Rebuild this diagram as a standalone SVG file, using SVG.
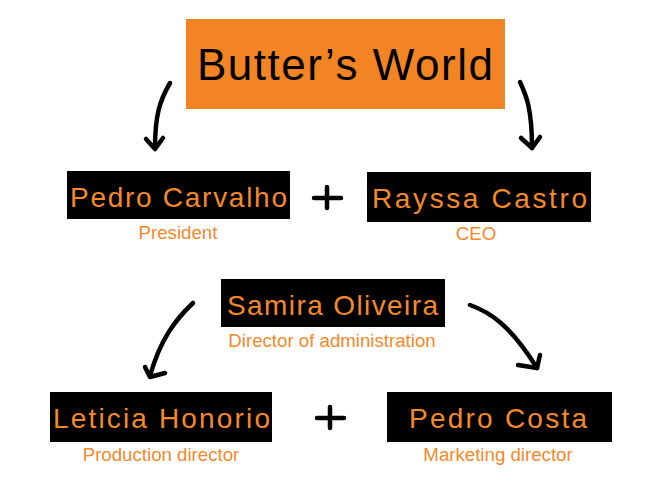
<svg xmlns="http://www.w3.org/2000/svg" width="650" height="496" viewBox="0 0 650 496">
<style>
.name{font-family:"Liberation Sans",Arial,sans-serif;font-size:28px;fill:#F5892A}
.title{font-family:"Liberation Sans",Arial,sans-serif;font-size:44px;fill:#000}
.role{font-family:"Liberation Sans",Arial,sans-serif;font-size:18.67px;fill:#F5892A;text-anchor:middle}
.box{fill:#000}
.conn path{fill:none;stroke:#000;stroke-width:4.5;stroke-linecap:round;stroke-linejoin:round}
</style>
<rect width="650" height="496" fill="#fff"/>
<g id="butters-world">
<rect x="186" y="19" width="319" height="90" fill="#F28424"/>
<text class="title" x="197" y="80" textLength="296" lengthAdjust="spacing">Butter’s World</text>
</g>
<g id="pedro-carvalho">
<rect class="box" x="67" y="171" width="223" height="48"/>
<text class="name" x="70" y="207" textLength="217" lengthAdjust="spacing">Pedro Carvalho</text>
<text class="role" x="178" y="239">President</text>
</g>
<g id="rayssa-castro">
<rect class="box" x="367" y="172" width="224" height="50"/>
<text class="name" x="372" y="208" textLength="215" lengthAdjust="spacing">Rayssa Castro</text>
<text class="role" x="476" y="240">CEO</text>
</g>
<g id="samira-oliveira">
<rect class="box" x="221" y="279" width="224" height="48"/>
<text class="name" x="227" y="315" textLength="211" lengthAdjust="spacing">Samira Oliveira</text>
<text class="role" x="332" y="347">Director of administration</text>
</g>
<g id="leticia-honorio">
<rect class="box" x="50" y="392" width="222" height="50"/>
<text class="name" x="53" y="428" textLength="217" lengthAdjust="spacing">Leticia Honorio</text>
<text class="role" x="161" y="461">Production director</text>
</g>
<g id="pedro-costa">
<rect class="box" x="387" y="392" width="225" height="50"/>
<text class="name" x="409" y="428" textLength="178" lengthAdjust="spacing">Pedro Costa</text>
<text class="role" x="498" y="461">Marketing director</text>
</g>
<g id="connectors" class="conn">
<path d="M170 83 C160 100 155 115 155 148"/>
<path d="M146 139 L155 149 L163 138"/>
<path d="M520 82 C526 95 532 108 532 148"/>
<path d="M521 138 L532 148 L540 137"/>
<path d="M193 303 C175 320 160 340 150 376"/>
<path d="M145 367 L150 377 L165 373"/>
<path d="M470 305 C490 312 510 325 537 368"/>
<path d="M518 365 L537 368 L540 355"/>
<path d="M314 198 H341 M327 187 V208"/>
<path d="M317 418 H344 M330 407 V428"/>
</g>
</svg>
